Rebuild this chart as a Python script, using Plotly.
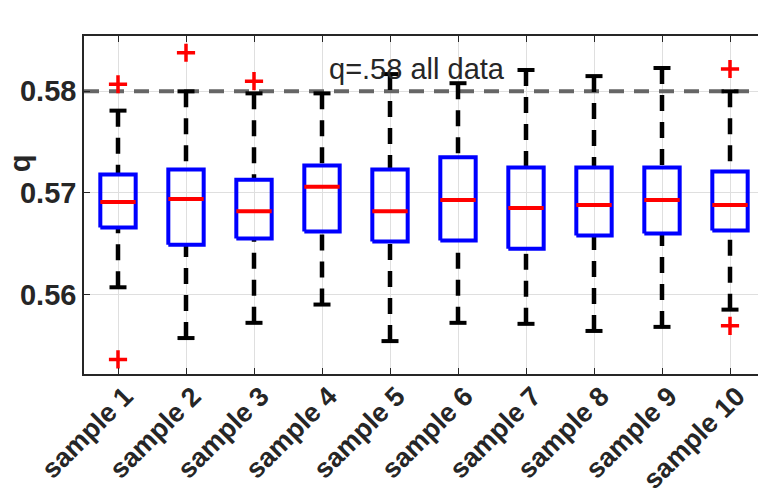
import plotly.graph_objects as go

# box statistics
samples = ['sample 1', 'sample 2', 'sample 3', 'sample 4', 'sample 5',
           'sample 6', 'sample 7', 'sample 8', 'sample 9', 'sample 10']
lower_whisker = [0.5607, 0.5557, 0.5572, 0.5590, 0.5554, 0.5572, 0.5571, 0.5564, 0.5568, 0.5585]
q1 = [0.5666, 0.5649, 0.5655, 0.5662, 0.5652, 0.5653, 0.5645, 0.5658, 0.5660, 0.5663]
median = [0.5691, 0.5694, 0.5682, 0.5706, 0.5682, 0.5693, 0.5685, 0.5688, 0.5693, 0.5688]
q3 = [0.5718, 0.5723, 0.5713, 0.5727, 0.5723, 0.5735, 0.5725, 0.5725, 0.5725, 0.5721]
upper_whisker = [0.5781, 0.5800, 0.5798, 0.5798, 0.5817, 0.5808, 0.5821, 0.5815, 0.5823, 0.5800]
outlier_x = [1, 1, 2, 3, 10, 10]
outlier_y = [0.5807, 0.5536, 0.5838, 0.5810, 0.5822, 0.5569]

ref_value = 0.58
ref_label = 'q=.58 all data'
ytick_vals = [0.56, 0.57, 0.58]
ytick_text = ['0.56', '0.57', '0.58']

FONT = 'Liberation Sans, Arial, Helvetica, sans-serif'
half_box = 0.26
half_cap = 0.125

box_x, box_y = [], []
med_x, med_y = [], []
wh_x, wh_y = [], []
cap_x, cap_y = [], []
for i in range(len(samples)):
    c = i + 1
    box_x += [c - half_box, c + half_box, c + half_box, c - half_box, c - half_box, None]
    box_y += [q1[i], q1[i], q3[i], q3[i], q1[i], None]
    med_x += [c - half_box, c + half_box, None]
    med_y += [median[i], median[i], None]
    # dashes start from the caps, like matlab
    wh_x += [c, c, None, c, c, None]
    wh_y += [upper_whisker[i], q3[i], None, lower_whisker[i], q1[i], None]
    cap_x += [c - half_cap, c + half_cap, None, c - half_cap, c + half_cap, None]
    cap_y += [upper_whisker[i], upper_whisker[i], None, lower_whisker[i], lower_whisker[i], None]

fig = go.Figure()

# reference line
fig.add_trace(go.Scatter(x=[0.5, 10.5], y=[ref_value, ref_value], mode='lines',
                         line=dict(color='#666666', width=4, dash='15px,10px'),
                         hoverinfo='skip'))
fig.add_trace(go.Scatter(x=wh_x, y=wh_y, mode='lines',
                         line=dict(color='black', width=4.5, dash='16px,11px'),
                         hoverinfo='skip'))
fig.add_trace(go.Scatter(x=cap_x, y=cap_y, mode='lines',
                         line=dict(color='black', width=4), hoverinfo='skip'))
fig.add_trace(go.Scatter(x=box_x, y=box_y, mode='lines',
                         line=dict(color='#0000ff', width=4), hoverinfo='skip'))
fig.add_trace(go.Scatter(x=med_x, y=med_y, mode='lines',
                         line=dict(color='#ff0000', width=4), hoverinfo='skip'))
fig.add_trace(go.Scatter(x=outlier_x, y=outlier_y, mode='markers',
                         marker=dict(symbol='cross-thin', size=13,
                                     line=dict(color='#ff0000', width=3.5))))

fig.add_annotation(x=4.07, y=0.5822, xref='x', yref='y', text=ref_label,
                   showarrow=False, xanchor='left', yanchor='middle',
                   font=dict(family=FONT, size=29, color='#262626'))
fig.add_annotation(x=-0.094, y=0.624, xref='paper', yref='paper', text='<b>q</b>',
                   showarrow=False, textangle=-90, xanchor='center', yanchor='middle',
                   font=dict(family=FONT, size=29, color='#262626'))

# page has an 8px body margin, so the figure is 8px smaller and margins shifted
fig.update_layout(
    width=758, height=490,
    margin=dict(l=76, r=2, t=28, b=124),
    paper_bgcolor='white', plot_bgcolor='white',
    showlegend=False,
    font=dict(family=FONT, color='#262626'),
    xaxis=dict(range=[0.5, 10.5], tickvals=list(range(1, len(samples) + 1)),
               ticktext=['<b>%s</b>' % s for s in samples], tickangle=-45,
               tickfont=dict(size=27), showgrid=True, gridcolor='#dfdfdf',
               ticks='inside', ticklen=6, tickcolor='#262626',
               ticklabelshift=7, ticklabelstandoff=-6,
               showline=True, linecolor='#262626', linewidth=1.5, mirror='ticks',
               zeroline=False, automargin=False),
    yaxis=dict(range=[0.55216, 0.58545], tickvals=ytick_vals,
               ticktext=['<b>%s</b>' % t for t in ytick_text],
               tickfont=dict(size=29), showgrid=True, gridcolor='#dfdfdf',
               ticks='inside', ticklen=6, tickcolor='#262626',
               showline=True, linecolor='#262626', linewidth=1.5, mirror='ticks',
               zeroline=False, automargin=False),
)

fig.write_html('out.html')
